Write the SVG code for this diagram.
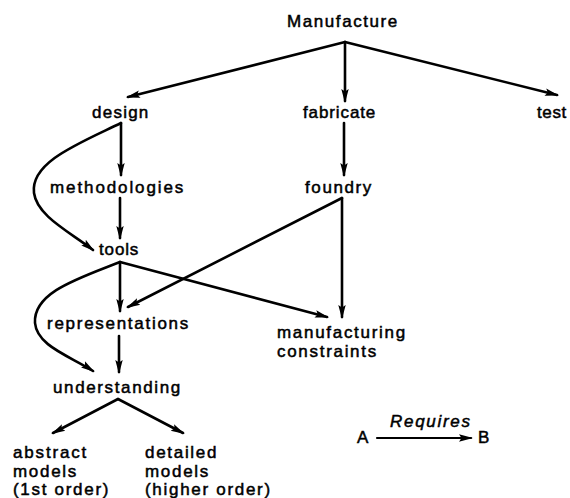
<svg xmlns="http://www.w3.org/2000/svg" width="570" height="498" viewBox="0 0 570 498">
  <style>
    .lbl { font-family: "Liberation Sans", Arial, Helvetica, sans-serif; font-size: 17px; fill: #000; letter-spacing: 1.7px; stroke: #000; stroke-width: 0.5px; }
    .it { font-style: italic; }
    .edge { fill: none; stroke: #000; stroke-width: 2.6; stroke-linecap: round; stroke-linejoin: round; marker-end: url(#head); }
  </style>
  <defs>
    <marker id="head" viewBox="0 0 14 9" refX="12" refY="4.5" markerWidth="14" markerHeight="9" markerUnits="userSpaceOnUse" orient="auto">
      <path d="M0,0.8 L14,4.5 L0,8.2 L2.5,4.5 Z" fill="#000"/>
    </marker>
  </defs>
  <rect width="570" height="498" fill="#fff"/>

  <g id="connectors">
    <!-- Manufacture fan-out -->
    <path class="edge" d="M345,42 L128,97"/>
    <path class="edge" d="M345,42 L345,101"/>
    <path class="edge" d="M345,42 L557,95"/>
    <!-- fabricate -> foundry -->
    <path class="edge" d="M344,123 L344,175"/>
    <!-- design -> methodologies, design -> tools -->
    <path class="edge" d="M121,123 L121,175"/>
    <path class="edge" d="M121,123 C80,143 30,162 34,193 C37,216 70,232 93,250"/>
    <!-- methodologies -> tools -->
    <path class="edge" d="M120,198 L120,238"/>
    <!-- tools fan-out -->
    <path class="edge" d="M120,262 L120,311"/>
    <path class="edge" d="M120,262 C80,278 33,292 35,323 C37,346 70,356 93,371"/>
    <path class="edge" d="M120,262 L327,317"/>
    <!-- foundry fan-out -->
    <path class="edge" d="M342,198 L128,307"/>
    <path class="edge" d="M342,198 L342,317"/>
    <!-- representations -> understanding -->
    <path class="edge" d="M119,336 L119,372"/>
    <!-- understanding fan-out -->
    <path class="edge" d="M118,399 L53,433"/>
    <path class="edge" d="M118,399 L183,433"/>
    <!-- legend arrow -->
    <path class="edge" d="M377,438 L471,438" style="stroke-width:2.2"/>
  </g>

  <g id="manufacture"><text class="lbl" x="287" y="27" textLength="112">Manufacture</text></g>
  <g id="design"><text class="lbl" x="92" y="118" textLength="58">design</text></g>
  <g id="fabricate"><text class="lbl" x="303" y="118" textLength="74">fabricate</text></g>
  <g id="test"><text class="lbl" x="537" y="118" textLength="31">test</text></g>
  <g id="methodologies"><text class="lbl" x="50" y="193" textLength="135">methodologies</text></g>
  <g id="foundry"><text class="lbl" x="305" y="193" textLength="68">foundry</text></g>
  <g id="tools"><text class="lbl" x="99" y="255" textLength="41">tools</text></g>
  <g id="representations"><text class="lbl" x="47" y="329" textLength="143">representations</text></g>
  <g id="manufacturing-constraints">
    <text class="lbl" x="277" y="338">manufacturing</text>
    <text class="lbl" x="277" y="357">constraints</text>
  </g>
  <g id="understanding"><text class="lbl" x="53" y="393" textLength="129">understanding</text></g>
  <g id="abstract-models">
    <text class="lbl" x="13" y="458" textLength="75">abstract</text>
    <text class="lbl" x="13" y="477">models</text>
    <text class="lbl" x="13" y="495">(1st order)</text>
  </g>
  <g id="detailed-models">
    <text class="lbl" x="145" y="458">detailed</text>
    <text class="lbl" x="145" y="477">models</text>
    <text class="lbl" x="145" y="495">(higher order)</text>
  </g>

  <g id="legend">
    <text class="lbl" x="357" y="443">A</text>
    <text class="lbl it" x="390" y="427">Requires</text>
    <text class="lbl" x="478" y="443">B</text>
  </g>
</svg>
